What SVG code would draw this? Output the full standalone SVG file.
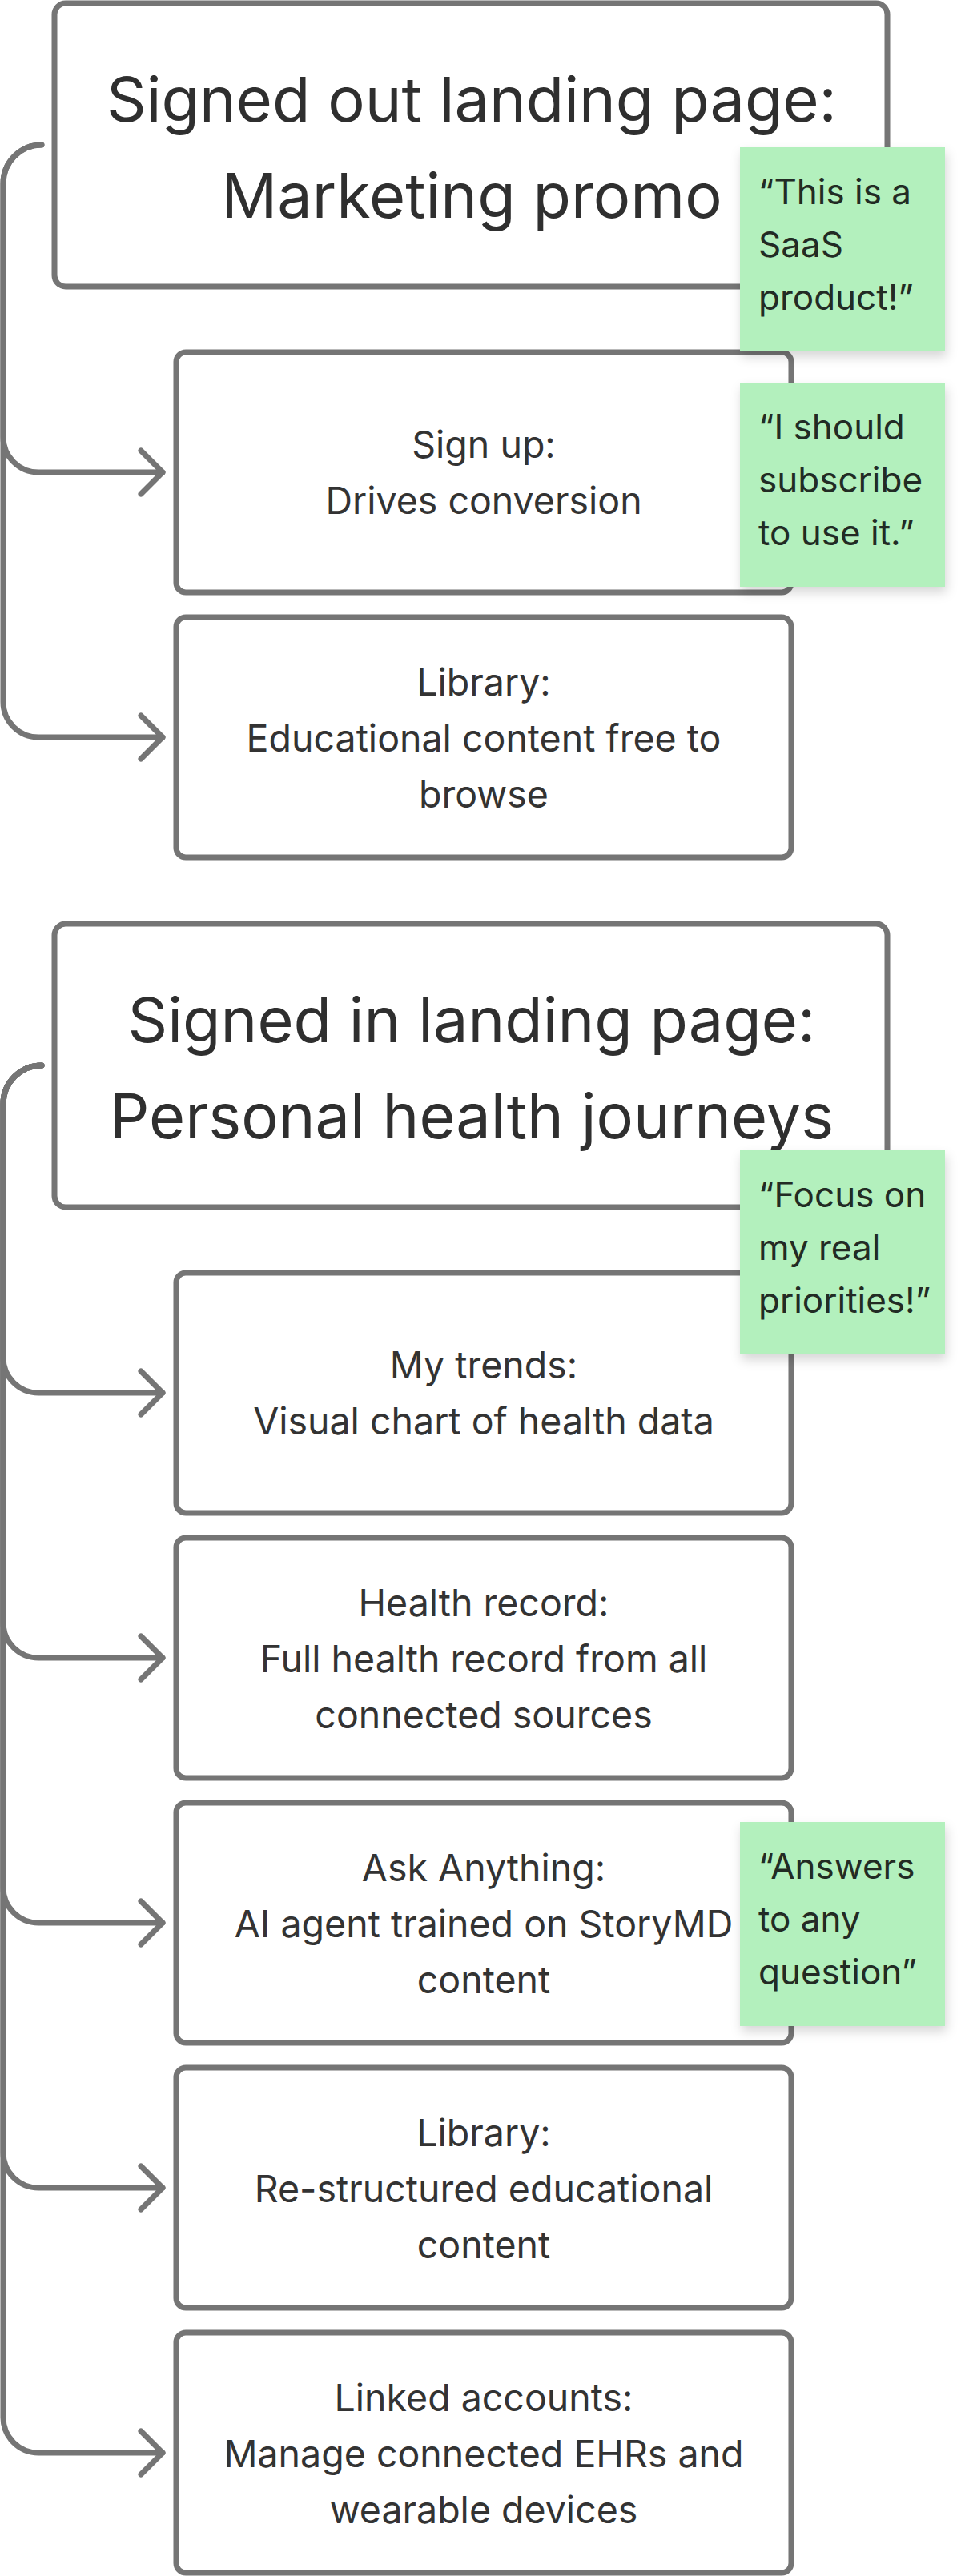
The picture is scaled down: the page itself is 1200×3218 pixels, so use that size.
<svg xmlns="http://www.w3.org/2000/svg" width="1200" height="3218" viewBox="0 0 1200 3218">
<defs>
<style>
.box{fill:#ffffff;stroke:#757575;stroke-width:7}
.conn{fill:none;stroke:#757575;stroke-width:7;stroke-linecap:round;stroke-linejoin:round}
.title{font-family:Inter,"Liberation Sans",sans-serif;font-size:77.5px;fill:#2f2f2f;text-anchor:middle}
.body{font-family:Inter,"Liberation Sans",sans-serif;font-size:46.5px;fill:#333333;text-anchor:middle}
.sticky{fill:#b3f0bd}
.stext{font-family:Inter,"Liberation Sans",sans-serif;font-size:44px;fill:#222b24}
</style>
<marker id="arr" markerUnits="userSpaceOnUse" markerWidth="44" markerHeight="70" refX="31" refY="33" orient="auto" overflow="visible">
<path d="M4,6 L31,33 L4,60" fill="none" stroke="#757575" stroke-width="7" stroke-linecap="round" stroke-linejoin="round"/>
</marker>
<filter id="shadow" x="-20%" y="-20%" width="150%" height="150%">
<feDropShadow dx="2" dy="7" stdDeviation="7" flood-color="#000000" flood-opacity="0.16"/>
</filter>
</defs>
<rect width="1200" height="3218" fill="#ffffff"/>

<g id="connectors">
<path class="conn" marker-end="url(#arr)" d="M52,181 A48,48 0 0 0 4,229 L4,546 A44,44 0 0 0 48,590 L203,590"/>
<path class="conn" marker-end="url(#arr)" d="M52,181 A48,48 0 0 0 4,229 L4,877 A44,44 0 0 0 48,921 L203,921"/>
<path class="conn" marker-end="url(#arr)" d="M52,1331 A48,48 0 0 0 4,1379 L4,1696 A44,44 0 0 0 48,1740 L203,1740"/>
<path class="conn" marker-end="url(#arr)" d="M52,1331 A48,48 0 0 0 4,1379 L4,2027 A44,44 0 0 0 48,2071 L203,2071"/>
<path class="conn" marker-end="url(#arr)" d="M52,1331 A48,48 0 0 0 4,1379 L4,2358 A44,44 0 0 0 48,2402 L203,2402"/>
<path class="conn" marker-end="url(#arr)" d="M52,1331 A48,48 0 0 0 4,1379 L4,2689 A44,44 0 0 0 48,2733 L203,2733"/>
<path class="conn" marker-end="url(#arr)" d="M52,1331 A48,48 0 0 0 4,1379 L4,3020 A44,44 0 0 0 48,3064 L203,3064"/>
</g>

<g id="signed-out">
<rect class="box" x="68" y="4" width="1040" height="354" rx="14"/>
<text class="title" x="589" y="152">Signed out landing page:</text>
<text class="title" x="589" y="272">Marketing promo</text>
</g>

<g id="sign-up">
<rect class="box" x="220" y="440" width="768" height="300" rx="12"/>
<text class="body" x="604" y="572">Sign up:</text>
<text class="body" x="604" y="642">Drives conversion</text>
</g>

<g id="library-1">
<rect class="box" x="220" y="771" width="768" height="300" rx="12"/>
<text class="body" x="604" y="869">Library:</text>
<text class="body" x="604" y="939">Educational content free to</text>
<text class="body" x="604" y="1009">browse</text>
</g>

<g id="signed-in">
<rect class="box" x="68" y="1154" width="1040" height="354" rx="14"/>
<text class="title" x="589" y="1302">Signed in landing page:</text>
<text class="title" x="589" y="1422">Personal health journeys</text>
</g>

<g id="my-trends">
<rect class="box" x="220" y="1590" width="768" height="300" rx="12"/>
<text class="body" x="604" y="1722">My trends:</text>
<text class="body" x="604" y="1792">Visual chart of health data</text>
</g>

<g id="health-record">
<rect class="box" x="220" y="1921" width="768" height="300" rx="12"/>
<text class="body" x="604" y="2019">Health record:</text>
<text class="body" x="604" y="2089">Full health record from all</text>
<text class="body" x="604" y="2159">connected sources</text>
</g>

<g id="ask-anything">
<rect class="box" x="220" y="2252" width="768" height="300" rx="12"/>
<text class="body" x="604" y="2350">Ask Anything:</text>
<text class="body" x="604" y="2420">AI agent trained on StoryMD</text>
<text class="body" x="604" y="2490">content</text>
</g>

<g id="library-2">
<rect class="box" x="220" y="2583" width="768" height="300" rx="12"/>
<text class="body" x="604" y="2681">Library:</text>
<text class="body" x="604" y="2751">Re-structured educational</text>
<text class="body" x="604" y="2821">content</text>
</g>

<g id="linked-accounts">
<rect class="box" x="220" y="2914" width="768" height="300" rx="12"/>
<text class="body" x="604" y="3012">Linked accounts:</text>
<text class="body" x="604" y="3082">Manage connected EHRs and</text>
<text class="body" x="604" y="3152">wearable devices</text>
</g>

<g id="note-saas">
<rect class="sticky" x="924" y="184" width="256" height="255" filter="url(#shadow)"/>
<text class="stext" x="947" y="255">“This is a</text>
<text class="stext" x="947" y="321">SaaS</text>
<text class="stext" x="947" y="387">product!”</text>
</g>

<g id="note-subscribe">
<rect class="sticky" x="924" y="478" width="256" height="255" filter="url(#shadow)"/>
<text class="stext" x="947" y="549">“I should</text>
<text class="stext" x="947" y="615">subscribe</text>
<text class="stext" x="947" y="681">to use it.”</text>
</g>

<g id="note-focus">
<rect class="sticky" x="924" y="1437" width="256" height="255" filter="url(#shadow)"/>
<text class="stext" x="947" y="1508">“Focus on</text>
<text class="stext" x="947" y="1574">my real</text>
<text class="stext" x="947" y="1640">priorities!”</text>
</g>

<g id="note-answers">
<rect class="sticky" x="924" y="2276" width="256" height="255" filter="url(#shadow)"/>
<text class="stext" x="947" y="2347">“Answers</text>
<text class="stext" x="947" y="2413">to any</text>
<text class="stext" x="947" y="2479">question”</text>
</g>
</svg>
